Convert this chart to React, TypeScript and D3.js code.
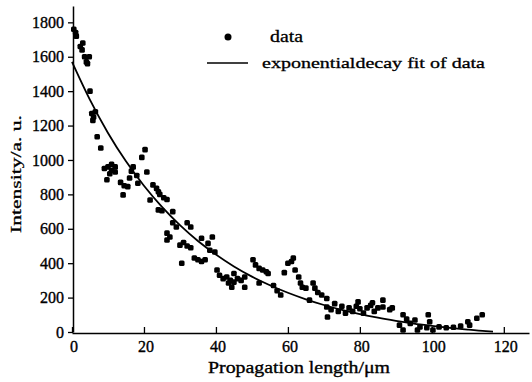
import { useEffect, useRef } from 'react';
import * as d3 from 'd3';

// Measured points (propagation length in µm, intensity in a.u.)
const dataX = [
  0.5, 1, 1.2, 2.3, 2.8, 3, 3.5, 4, 4.3, 4.8, 5, 5.5, 6, 5.8, 6.5, 7, 8, 9, 10, 11, 12, 10.5, 12, 11,
  9.7, 13.5, 14.5, 15.5, 14.2, 16.5, 17, 18, 16, 18.3, 19.4, 20.3, 20.8, 22.5, 23.5, 24, 21.7, 24.4,
  25.5, 26.4, 24, 25, 28, 28, 29, 32, 33, 26.4, 27.2, 26.4, 30, 31, 32, 33, 30.5, 34, 35, 36, 37, 36,
  39, 37.8, 38.3, 39.7, 40.3, 41, 42, 43, 44, 45, 46, 47, 48, 43.5, 45, 44.4, 48, 50.3, 51, 52, 53, 54,
  54.5, 52, 56, 57, 58, 59, 60, 61, 61.5, 62, 63, 63.5, 64, 65, 66, 67, 67.5, 68.3, 69.4, 70.8, 70.8,
  71, 72, 73, 74, 75, 76, 77, 78, 79, 79.5, 80, 81, 82, 83, 83.5, 84, 85, 86.4, 86.4, 88.3, 89, 91, 92,
  92, 93, 94, 95.3, 96, 96.7, 98.6, 99, 99.4, 100.3, 102, 104, 106, 108, 110, 110.5, 112.5, 114,
];
const dataY = [
  1760, 1740, 1720, 1660, 1640, 1680, 1600, 1570, 1560, 1600, 1400, 1270, 1250, 1230, 1280, 1135, 1070,
  950, 960, 940, 960, 920, 930, 975, 885, 870, 850, 845, 797, 935, 960, 910, 895, 865, 1015, 1060, 930,
  855, 835, 815, 767, 800, 780, 770, 710, 705, 700, 635, 610, 635, 610, 575, 552, 535, 505, 520, 500,
  490, 400, 430, 420, 410, 420, 545, 552, 515, 475, 465, 360, 330, 310, 320, 300, 340, 310, 300, 320,
  285, 290, 260, 260, 420, 390, 370, 360, 350, 340, 285, 270, 240, 215, 345, 400, 410, 430, 360, 320,
  285, 260, 255, 185, 285, 255, 230, 215, 195, 145, 87, 130, 165, 120, 150, 110, 140, 120, 150, 175,
  135, 110, 140, 155, 170, 120, 140, 185, 145, 130, 140, 40, 12, 100, 75, 50, 70, 12, 30, 25, 100, 60,
  12, 30, 25, 28, 35, 60, 40, 80, 100,
];

// Exponential decay fit
const fitX = [0, 5, 10, 15, 20, 25, 30, 35, 40, 45, 50, 55, 60, 65, 70, 75, 80, 85, 90, 95, 100, 105, 110, 115, 117];
const fitY = [1570, 1349, 1157, 992, 850, 727, 621, 529, 450, 381, 322, 272, 228, 190, 157, 129, 104, 83, 65, 49, 36, 24, 14, 5, 2];

const xTicks = [0, 20, 40, 60, 80, 100, 120];
const yTicks = [0, 200, 400, 600, 800, 1000, 1200, 1400, 1600, 1800];

const FONT = '"Liberation Serif", "DejaVu Serif", serif';

export default function App() {
  const svgRef = useRef<SVGSVGElement>(null);

  useEffect(() => {
    if (!svgRef.current) return;
    const svg = d3.select(svgRef.current);
    svg.selectAll('*').remove();

    const x = d3.scaleLinear().domain([0, 127]).range([72, 529]);
    const y = d3.scaleLinear().domain([0, 1895]).range([332, 6]);

    // x axis, ticks pointing inward
    const xAxis = svg
      .append('g')
      .attr('transform', 'translate(0,333)')
      .call(d3.axisTop(x).tickValues(xTicks).tickSize(6).tickSizeOuter(0).tickFormat(() => ''));
    xAxis.select('.domain').attr('stroke', '#000').attr('stroke-width', 1.5);
    xAxis.selectAll('.tick line').attr('stroke', '#000').attr('stroke-width', 1.3);

    svg
      .append('g')
      .selectAll('text')
      .data(xTicks)
      .enter()
      .append('text')
      .attr('x', (d) => x(d) + 2)
      .attr('y', 352)
      .attr('text-anchor', 'middle')
      .attr('font-family', FONT)
      .attr('font-size', 16)
      .attr('stroke', '#000')
      .attr('stroke-width', 0.35)
      .text((d) => d);

    // y axis, ticks pointing outward
    const yAxis = svg
      .append('g')
      .attr('transform', 'translate(73,0)')
      .call(
        d3
          .axisLeft(y)
          .tickValues(yTicks)
          .tickSize(5)
          .tickSizeOuter(0)
          .tickPadding(4)
          .tickFormat(d3.format('d')),
      )
      .attr('font-family', FONT)
      .attr('font-size', 16);
    yAxis.select('.domain').attr('stroke', '#000').attr('stroke-width', 1.5);
    yAxis.selectAll('.tick line').attr('stroke', '#000').attr('stroke-width', 1.3);
    yAxis
      .selectAll('text')
      .attr('fill', '#000')
      .attr('stroke', '#000')
      .attr('stroke-width', 0.35);

    // fit curve
    const line = d3
      .line<number>()
      .x((d, i) => x(fitX[i]))
      .y((d) => y(d))
      .curve(d3.curveMonotoneX);
    svg
      .append('path')
      .datum(fitY)
      .attr('fill', 'none')
      .attr('stroke', '#000')
      .attr('stroke-width', 1.8)
      .attr('d', line);

    // data points
    svg
      .append('g')
      .selectAll('rect')
      .data(dataY)
      .enter()
      .append('rect')
      .attr('x', (d, i) => x(dataX[i]) - 2.8)
      .attr('y', (d) => y(d) - 2.8)
      .attr('width', 5.6)
      .attr('height', 5.6)
      .attr('rx', 1.5)
      .attr('fill', '#000');

    // legend
    const legend = svg.append('g').attr('font-family', FONT);
    legend.append('circle').attr('cx', 228).attr('cy', 37).attr('r', 3.5).attr('fill', '#000');
    legend
      .append('text')
      .attr('x', 270)
      .attr('y', 42)
      .attr('textLength', 33)
      .attr('lengthAdjust', 'spacingAndGlyphs')
      .attr('font-size', 16)
      .attr('stroke', '#000')
      .attr('stroke-width', 0.3)
      .text('data');
    legend
      .append('line')
      .attr('x1', 207)
      .attr('x2', 248)
      .attr('y1', 63)
      .attr('y2', 63)
      .attr('stroke', '#000')
      .attr('stroke-width', 1.5);
    legend
      .append('text')
      .attr('x', 262)
      .attr('y', 68)
      .attr('textLength', 223)
      .attr('lengthAdjust', 'spacingAndGlyphs')
      .attr('font-size', 15)
      .attr('stroke', '#000')
      .attr('stroke-width', 0.3)
      .text('exponentialdecay fit of data');

    // axis titles
    svg
      .append('text')
      .attr('x', 299)
      .attr('y', 373)
      .attr('text-anchor', 'middle')
      .attr('textLength', 182)
      .attr('lengthAdjust', 'spacingAndGlyphs')
      .attr('font-family', FONT)
      .attr('font-size', 17)
      .attr('stroke', '#000')
      .attr('stroke-width', 0.35)
      .text('Propagation length/\u03bcm');
    svg
      .append('text')
      .attr('transform', 'translate(21,174) rotate(-90)')
      .attr('text-anchor', 'middle')
      .attr('textLength', 118)
      .attr('lengthAdjust', 'spacingAndGlyphs')
      .attr('font-family', FONT)
      .attr('font-size', 15)
      .attr('stroke', '#000')
      .attr('stroke-width', 0.3)
      .text('Intensity/a. u.');
  }, []);

  return (
    <svg
      ref={svgRef}
      width={532}
      height={382}
      style={{ position: 'absolute', left: 0, top: 0, background: '#fff' }}
    />
  );
}
